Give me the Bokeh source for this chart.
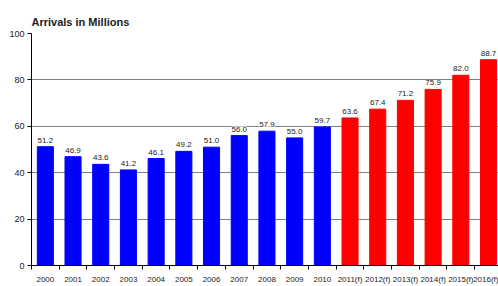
from bokeh.plotting import figure
from bokeh.models import ColumnDataSource, Range1d, FixedTicker, LabelSet
from bokeh.core.properties import value
from bokeh.embed import file_html
from bokeh.resources import INLINE

years = ["2000", "2001", "2002", "2003", "2004", "2005", "2006", "2007", "2008",
         "2009", "2010", "2011(f)", "2012(f)", "2013(f)", "2014(f)", "2015(f)", "2016(f)"]
arrivals = [51.2, 46.9, 43.6, 41.2, 46.1, 49.2, 51.0, 56.0, 57.9, 55.0, 59.7,
            63.6, 67.4, 71.2, 75.9, 82.0, 88.7]
forecast = [False] * 11 + [True] * 6
y_ticks = [0, 20, 40, 60, 80, 100]

FONT = "Liberation Sans"

xs = list(range(len(years)))
colors = ["#ff0000" if f else "#0000ff" for f in forecast]
labels = ["%.1f" % v for v in arrivals]

src = ColumnDataSource(dict(x=xs, top=arrivals, color=colors, label=labels))

p = figure(width=498, height=286, output_backend="svg", toolbar_location=None,
           x_range=Range1d(-0.5, 16.36), y_range=Range1d(0, 100),
           min_border_left=31, min_border_right=0, min_border_bottom=19, min_border_top=33)

p.title.text = "Arrivals in Millions"
p.title.text_font = FONT
p.title.text_font_size = "11px"
p.title.text_font_style = "bold"
p.title.text_color = "#222222"
p.title.align = "left"
p.title.offset = 0
p.title.standoff = 11

p.outline_line_color = None
p.background_fill_color = "white"

p.vbar(x="x", top="top", width=0.58, color="color", source=src)

p.add_layout(LabelSet(x="x", y="top", text="label", source=src, y_offset=4,
                      text_align="center", text_baseline="bottom",
                      text_font=value(FONT), text_font_size=value("8px"),
                      text_color="#222222", background_fill_color="white"))

# x axis
p.xaxis.ticker = FixedTicker(ticks=xs, minor_ticks=[i - 0.5 for i in xs] + [xs[-1] + 0.5])
p.xaxis.major_label_overrides = {i: y for i, y in zip(xs, years)}
p.xaxis.major_tick_out = 0
p.xaxis.major_tick_in = 0
p.xaxis.minor_tick_out = 4
p.xaxis.minor_tick_in = 0
p.xaxis.major_label_standoff = 5
p.xaxis.major_label_text_font = FONT
p.xaxis.major_label_text_font_size = "8px"
p.xaxis.major_label_text_color = "#222222"
p.xaxis.axis_line_color = "black"
p.xgrid.grid_line_color = None

# y axis
p.yaxis.ticker = FixedTicker(ticks=y_ticks)
p.yaxis.major_tick_out = 4
p.yaxis.major_tick_in = 0
p.yaxis.minor_tick_line_color = None
p.yaxis.major_label_standoff = 3
p.yaxis.major_label_text_font = FONT
p.yaxis.major_label_text_font_size = "9px"
p.yaxis.major_label_text_color = "#222222"
p.yaxis.axis_line_color = "black"
p.ygrid.grid_line_color = "#808080"
p.ygrid.grid_line_width = 1

open("out.html", "w").write(file_html(p, INLINE))
